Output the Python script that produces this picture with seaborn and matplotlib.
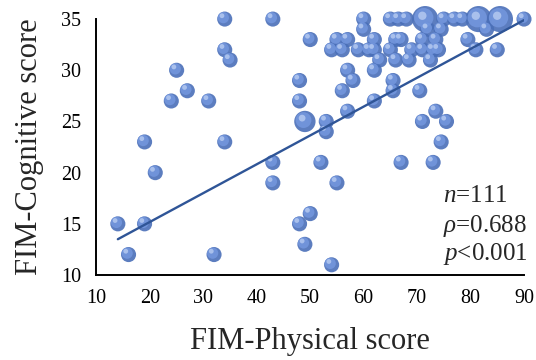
import numpy as np
import pandas as pd
import seaborn as sns
import matplotlib.pyplot as plt
from matplotlib.transforms import offset_copy

# values (count = how many patients share the bubble)
physical = [34, 43, 60, 65, 66.5, 68, 71.5, 75, 77, 78.5, 81.5, 85.5, 90,
            60, 72, 74.5, 83,
            50, 55, 57, 62, 66, 67, 71, 73.5, 79.5,
            34, 54, 56, 59, 61, 62, 65, 69, 71, 73, 74, 81, 85,
            35, 63, 66, 68.5, 72.5,
            25, 57, 62,
            48, 58, 65.5,
            27, 56, 65.5, 70.5,
            24, 31, 48, 62,
            57, 73.5,
            49, 53, 71, 75.5,
            53,
            19, 34, 74.5,
            43, 52, 67, 73,
            21,
            43, 55,
            50,
            14, 19, 48,
            49,
            16, 32,
            54]
cognitive = [35] * 13 + [34] * 4 + [33] * 9 + [32] * 13 + [31] * 5 + [30] * 3 \
    + [29] * 3 + [28] * 4 + [27] * 4 + [26] * 2 + [25] * 4 + [24] + [23] * 3 \
    + [21] * 4 + [20] + [19] * 2 + [16] + [15] * 3 + [13] + [12] * 2 + [11]
count = [1] * len(physical)
count[6] = 3   # (71.5, 35)
count[10] = 3  # (81.5, 35)
count[11] = 3  # (85.5, 35)
count[60] = 2  # (49, 25)

# fitted line end points as drawn in the reference
trend_x = [14, 90]
trend_y = [13.5, 34.9]

df = pd.DataFrame({"physical": physical, "cognitive": cognitive, "count": count})

sns.set_style("white")
plt.rcParams["font.family"] = ["Liberation Serif", "DejaVu Serif"]
plt.rcParams["mathtext.fontset"] = "custom"
plt.rcParams["mathtext.rm"] = "Liberation Serif"
plt.rcParams["mathtext.it"] = "Liberation Serif:italic"

fig = plt.figure(figsize=(5.36, 3.6), dpi=100)
ax = fig.add_axes([0.18, 0.236, 0.7976, 0.711])

# sphere look: dark base, lighter shifted core, small highlight
sns.scatterplot(data=df, x="physical", y="cognitive", size="count",
                sizes=(118, 354), size_norm=(1, 3), color="#4a6fb8",
                edgecolor="none", alpha=0.9, legend=False, ax=ax, clip_on=False)
hl = offset_copy(ax.transData, fig=fig, x=-1.0, y=1.0, units="points")
sns.scatterplot(data=df, x="physical", y="cognitive", size="count",
                sizes=(65, 195), size_norm=(1, 3), color="#7497de",
                edgecolor="none", alpha=0.85, legend=False, ax=ax,
                clip_on=False, transform=hl)
hl2 = offset_copy(ax.transData, fig=fig, x=-2.0, y=2.4, units="points")
sns.scatterplot(data=df, x="physical", y="cognitive", size="count",
                sizes=(12, 36), size_norm=(1, 3), color="#b8ccf2",
                edgecolor="none", alpha=0.8, legend=False, ax=ax,
                clip_on=False, transform=hl2)

sns.lineplot(x=trend_x, y=trend_y, color="#2f5597", linewidth=1.7, ax=ax)

ax.set_xlim(10, 90)
ax.set_ylim(10, 35)
ax.set_xticks(range(10, 91, 10))
ax.set_yticks(range(10, 36, 5))
ax.tick_params(length=0, labelsize=14.5, colors="black")
ax.tick_params(axis="x", pad=10)
ax.tick_params(axis="y", pad=11)
sns.despine(ax=ax)
for s in ["left", "bottom"]:
    ax.spines[s].set_color("black")
    ax.spines[s].set_linewidth(1.4)

ax.set_xlabel("FIM-Physical score", fontsize=22, labelpad=14)
ax.set_ylabel("FIM-Cognitive score", fontsize=22, labelpad=12)

ax.text(0.81, 0.285, r"$\it{n}$=111", transform=ax.transAxes, fontsize=18, va="baseline")
ax.text(0.81, 0.170, r"$\it{\rho}$=0.688", transform=ax.transAxes, fontsize=18, va="baseline")
ax.text(0.81, 0.0586, r"$\it{p}$<0.001", transform=ax.transAxes, fontsize=18, va="baseline")

fig.savefig("out.png", dpi=100)
